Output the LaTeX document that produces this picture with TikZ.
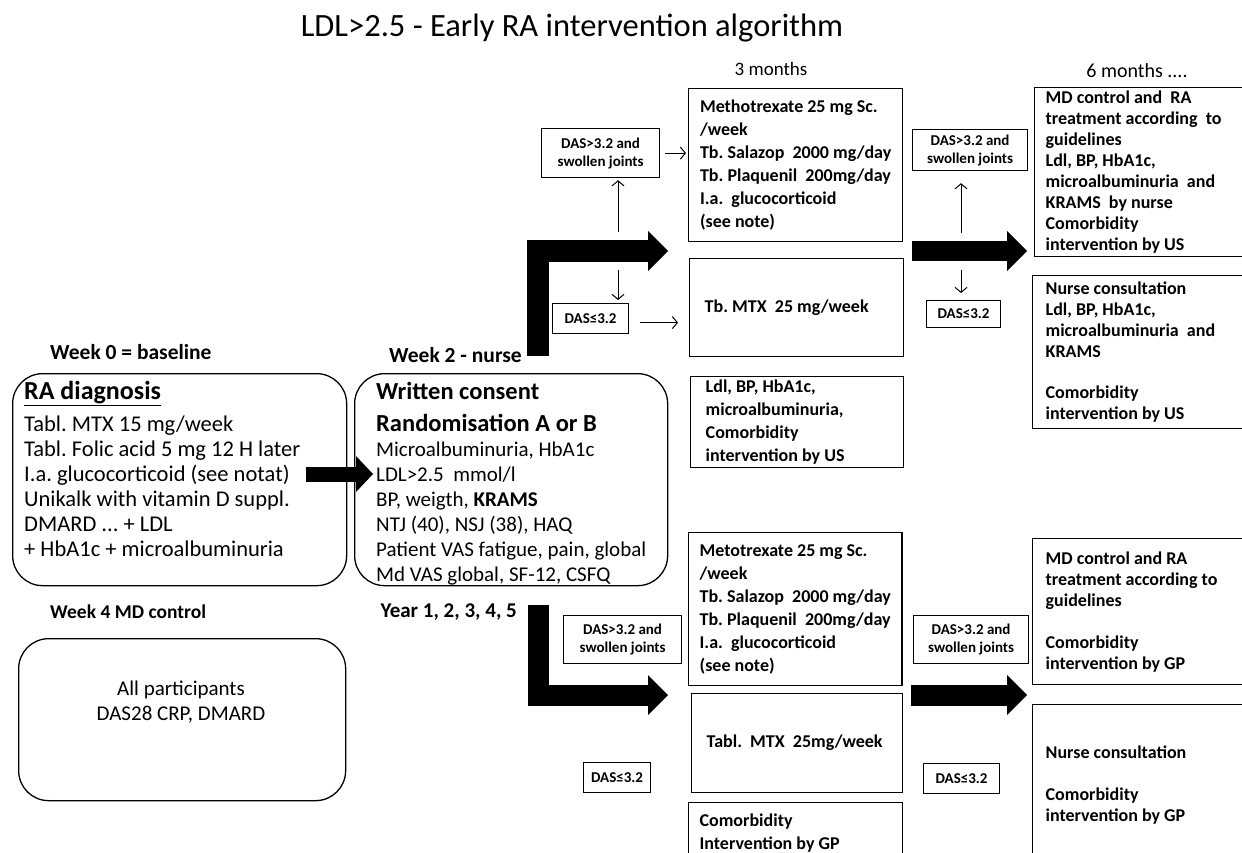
\documentclass[tikz,border=0pt]{standalone}
\usepackage{fontspec}
\setmainfont{Carlito}
\frenchspacing
\usetikzlibrary{arrows.meta,calc}

\tikzset{
  box/.style={draw,line width=1.3pt,anchor=north west,align=flush left,inner xsep=11pt,inner ysep=0pt,
    font=\bfseries\fontsize{18}{23}\selectfont},
  sidebox/.style={box,inner xsep=12pt,font=\bfseries\fontsize{18}{21}\selectfont},
  rbox/.style={draw,line width=1.3pt,anchor=north west,rounded corners=30pt},
  das/.style={draw,line width=1.2pt,anchor=north west,align=center,inner sep=0pt,
    font=\bfseries\fontsize{15}{18}\selectfont},
  slim/.style={-{Straight Barb[length=5pt,width=12pt]},line width=1pt},
  fat/.style={line width=#1},
  bigtip/.style={-{Triangle[length=20pt,width=40pt,line width=0pt]}},
  lbl/.style={font=\bfseries\fontsize{21.5}{24}\selectfont,inner sep=0pt}
}

\begin{document}
\begin{tikzpicture}[x=1pt,y=-1pt]
\useasboundingbox (0,0) rectangle (1242,852);
\clip (0,0) rectangle (1242,852);

% headings
\node[font=\fontsize{32.5}{38}\selectfont] (title) at (572,28) {LDL>2.5 - Early RA intervention algorithm};
\node[font=\fontsize{19}{22}\selectfont] (m3) at (771,69) {3 months};
\node[font=\fontsize{20}{22}\selectfont] (m6) at (1137,71) {6 months ....};
\node[lbl,anchor=west] (wk0) at (50,352) {Week 0 = baseline};
\node[lbl,anchor=east] (wk2) at (522,355) {Week 2 - nurse};
\node[lbl,anchor=west,font=\bfseries\fontsize{19.5}{22}\selectfont] (wk4) at (50,612) {Week 4 MD control};
\node[lbl,anchor=east,font=\bfseries\fontsize{21}{24}\selectfont] (yr) at (517,612) {Year 1, 2, 3, 4, 5};

% rounded boxes
\node[rbox,minimum width=334pt,minimum height=212pt] (ra) at (12,373) {};
\node[anchor=north west,align=left,inner sep=0pt,font=\fontsize{22.5}{25}\selectfont] (raT) at (24,381)
  {{\bfseries\fontsize{26}{28}\selectfont\underline{RA diagnosis}}\\[7pt]
   Tabl. MTX 15 mg/week\\ Tabl. Folic acid 5 mg 12 H later\\ I.a. glucocorticoid (see notat)\\
   Unikalk with vitamin D suppl.\\ DMARD ... + LDL\\ + HbA1c + microalbuminuria};
\node[rbox,minimum width=313pt,minimum height=212pt] (cons) at (354,373) {};
\node[anchor=north west,align=left,inner sep=0pt,font=\fontsize{21}{25}\selectfont] (consT) at (376,382)
  {{\bfseries\fontsize{24.5}{28}\selectfont Written consent}\\[7pt]
   {\bfseries\fontsize{24.5}{28}\selectfont Randomisation A or B}\\
   Microalbuminuria, HbA1c\\ LDL>2.5~ mmol/l\\ BP, weigth, \textbf{KRAMS}\\
   NTJ (40), NSJ (38), HAQ\\ Patient VAS fatigue, pain, global\\ Md VAS global, SF-12, CSFQ};
\node[rbox,minimum width=327pt,minimum height=162pt] (allp) at (18,638) {};
\node[align=center,font=\fontsize{21}{25}\selectfont] (allT) at (181,702) {All participants\\ DAS28 CRP, DMARD};

% 3 months
\node[box,minimum width=214pt,minimum height=153pt] (met1) at (688,88)
  {Methotrexate 25 mg Sc.\\ /week\\ Tb. Salazop~ 2000 mg/day\\ Tb. Plaquenil~ 200mg/day\\ I.a.~ glucocorticoid\\ (see note)};
\node[box,text width=192pt,minimum height=98pt] (mtx1) at (689,258) {~Tb. MTX~ 25 mg/week};
\node[box,text width=191pt,minimum height=91pt] (ldl1) at (690,376)
  {~Ldl, BP, HbA1c,\\ ~microalbuminuria,\\ ~Comorbidity\\ ~intervention by US};
\node[box,minimum width=213pt,minimum height=153pt] (met2) at (688,532)
  {Metotrexate 25 mg Sc.\\ /week\\ Tb. Salazop~ 2000 mg/day\\ Tb. Plaquenil~ 200mg/day\\ I.a.~ glucocorticoid\\ (see note)};
\node[box,text width=189pt,minimum height=99pt] (mtx2) at (691,693) {~Tabl.~ MTX~ 25mg/week};
\node[box,text width=192pt,minimum height=60pt] (gp2) at (688,802) {Comorbidity\\ Intervention by GP};

% 6 months
\node[sidebox,text width=200pt,inner xsep=11pt,minimum height=169pt] (mdU) at (1034,87)
  {MD control and~ RA\\ treatment according~ to\\ guidelines\\ Ldl, BP, HbA1c,\\ microalbuminuria~ and\\
   KRAMS~ by nurse\\ Comorbidity\\ intervention by US};
\node[sidebox,text width=200pt,inner xsep=13pt,minimum height=153pt] (nurseU) at (1032,275)
  {Nurse consultation\\ Ldl, BP, HbA1c,\\ microalbuminuria~ and\\ KRAMS\\[20pt] Comorbidity\\ intervention by US};
\node[sidebox,text width=200pt,inner xsep=13pt,minimum height=146pt] (mdL) at (1032,538)
  {MD control and RA\\ treatment according to\\ guidelines\\[21pt] Comorbidity\\ intervention by GP};
\node[sidebox,text width=200pt,inner xsep=13pt,minimum height=160pt] (nurseL) at (1032,704)
  {Nurse consultation\\[21pt] Comorbidity\\ intervention by GP};

% DAS boxes
\node[das,minimum width=118pt,minimum height=49pt] (dasHiU1) at (541,128) {DAS>3.2 and\\ swollen joints};
\node[das,minimum width=76pt,minimum height=30pt] (dasLoU1) at (552,303) {DAS≤3.2};
\node[das,minimum width=115pt,minimum height=41pt] (dasHiU2) at (912,129) {DAS>3.2 and\\ swollen joints};
\node[das,minimum width=74pt,minimum height=27pt] (dasLoU2) at (926,300) {DAS≤3.2};
\node[das,minimum width=118pt,minimum height=48pt] (dasHiL1) at (563,615) {DAS>3.2 and\\ swollen joints};
\node[das,minimum width=67pt,minimum height=30pt] (dasLoL1) at (583,762) {DAS≤3.2};
\node[das,minimum width=115pt,minimum height=48pt] (dasHiL2) at (913,615) {DAS>3.2 and\\ swollen joints};
\node[das,minimum width=76pt,minimum height=30pt] (dasLoL2) at (923,763) {DAS≤3.2};

% block arrows
\coordinate (raOut) at (306,474);
\coordinate (consIn) at (373,474);
\draw[fat=15pt,-{Triangle[length=17pt,width=36pt,line width=0pt]}] (raOut) -- (consIn);
\coordinate (upStart) at (538,356);
\coordinate (upTip) at (668,251);
\draw[fat=22pt,bigtip] (upStart) |- (upTip);
\coordinate (dnStart) at (538,605);
\coordinate (dnTip) at (668,695);
\draw[fat=21pt,bigtip] (dnStart) |- (dnTip);
\coordinate (rUpStart) at (912,251);
\coordinate (rUpTip) at (1027,251);
\draw[fat=20pt,bigtip] (rUpStart) -- (rUpTip);
\coordinate (rDnStart) at (911,695);
\coordinate (rDnTip) at (1027,695);
\draw[fat=21pt,bigtip] (rDnStart) -- (rDnTip);

% thin arrows
\coordinate (splitU1a) at (618,232);
\coordinate (splitU1b) at (618,270);
\coordinate (splitU2a) at (961,233);
\coordinate (splitU2b) at (961,270);
\coordinate (loOut) at ([yshift=-4pt]dasLoU1.east);
\draw[slim,shorten >=2pt] (splitU1a) -- (splitU1a |- dasHiU1.south);
\draw[slim,shorten >=3pt] (splitU1b) -- (splitU1b |- dasLoU1.north);
\draw[slim,shorten >=12pt] (splitU2a) -- (splitU2a |- dasHiU2.south);
\draw[slim,shorten >=7pt] (splitU2b) -- (splitU2b |- dasLoU2.north);
\draw[slim,shorten <=5pt,shorten >=2pt] (dasHiU1.east) -- (met1.west |- dasHiU1.east);
\draw[slim,shorten <=11pt,shorten >=11pt] (loOut) -- (mtx1.west |- loOut);
\end{tikzpicture}
\end{document}
